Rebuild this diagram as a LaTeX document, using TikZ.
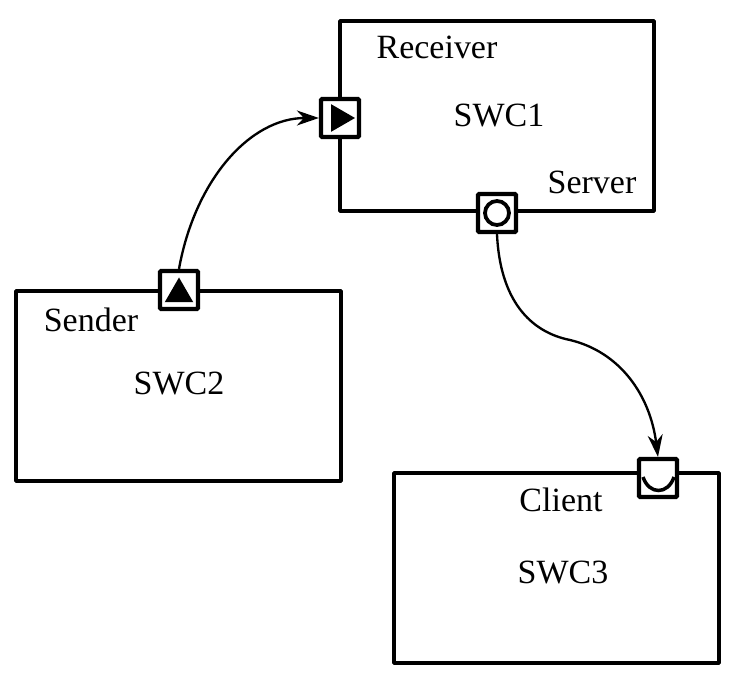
\documentclass[tikz,border=0pt]{standalone}
\usepackage{fontspec}
\setmainfont{Liberation Serif}
\usetikzlibrary{arrows.meta,shapes.geometric}
\tikzset{
	swc/.style = {draw, line width=1pt*3.4, rounded corners=0.5pt, minimum width=0.03cm*#1, minimum height=0.03cm*190, inner sep=0pt},
	port/.style = {draw, fill=white, line width=1pt*3.6, rounded corners=1pt, minimum size=0.03cm*38, inner sep=0pt},
	lbl/.style = {font=\fontsize{29}{32}\selectfont, inner sep=0pt},
	flag/.style = {regular polygon, regular polygon sides=3, fill=black, inner sep=0pt, minimum size=0.03cm*#1},
	ring/.style = {circle, draw, line width=1pt*3.2, minimum size=0.03cm*24, inner sep=0pt},
	link/.style = {line width=1pt*2, -{Stealth[length=0.03cm*22, width=0.03cm*15, inset=0.03cm*7]}}
}
\begin{document}
\begin{tikzpicture}[x=0.03cm, y=-0.03cm]
	\useasboundingbox (0,0) rectangle (745,676);
	% components
	\node [swc=314] (swcone) at (497,116) {};
	\node [swc=325] (swctwo) at (178.5,386) {};
	\node [swc=325] (swcthree) at (556.5,568) {};
	% ports
	\node [port] (receiver) at (340,118) {};
	\node [port] (server) at (497,213) {};
	\node [port] (sender) at (179,290) {};
	\node [port] (client) at (658,478) {};
	\node [flag=32, shape border rotate=-90] (recvflag) at (339,118) {};
	\node [flag=33] (sendflag) at (179,294) {};
	\node [ring] (srvring) at (497,213) {};
	\coordinate (cupleft) at (643,477);
	\coordinate (cupright) at (674,477);
	\draw [line width=1pt*3] (cupleft) .. controls (649,495) and (668,495) .. (cupright);
	% texts
	\node [lbl] (rcvtext) at (437,47) {Receiver};
	\node [lbl] (onetext) at (499,116) {SWC1};
	\node [lbl] (srvtext) at (592,182) {Server};
	\node [lbl] (sndtext) at (91,320) {Sender};
	\node [lbl] (twotext) at (179,384) {SWC2};
	\node [lbl] (clitext) at (561,500) {Client};
	\node [lbl] (thrtext) at (563,573) {SWC3};
	% connectors
	\draw [link] (sender.north) .. controls (195,180) and (250,118) .. (receiver.west);
	\draw [link] (server.south) .. controls (500,300) and (530,332) .. (570,340) .. controls (620,352) and (650,395) .. (client.north);
\end{tikzpicture}
\end{document}
